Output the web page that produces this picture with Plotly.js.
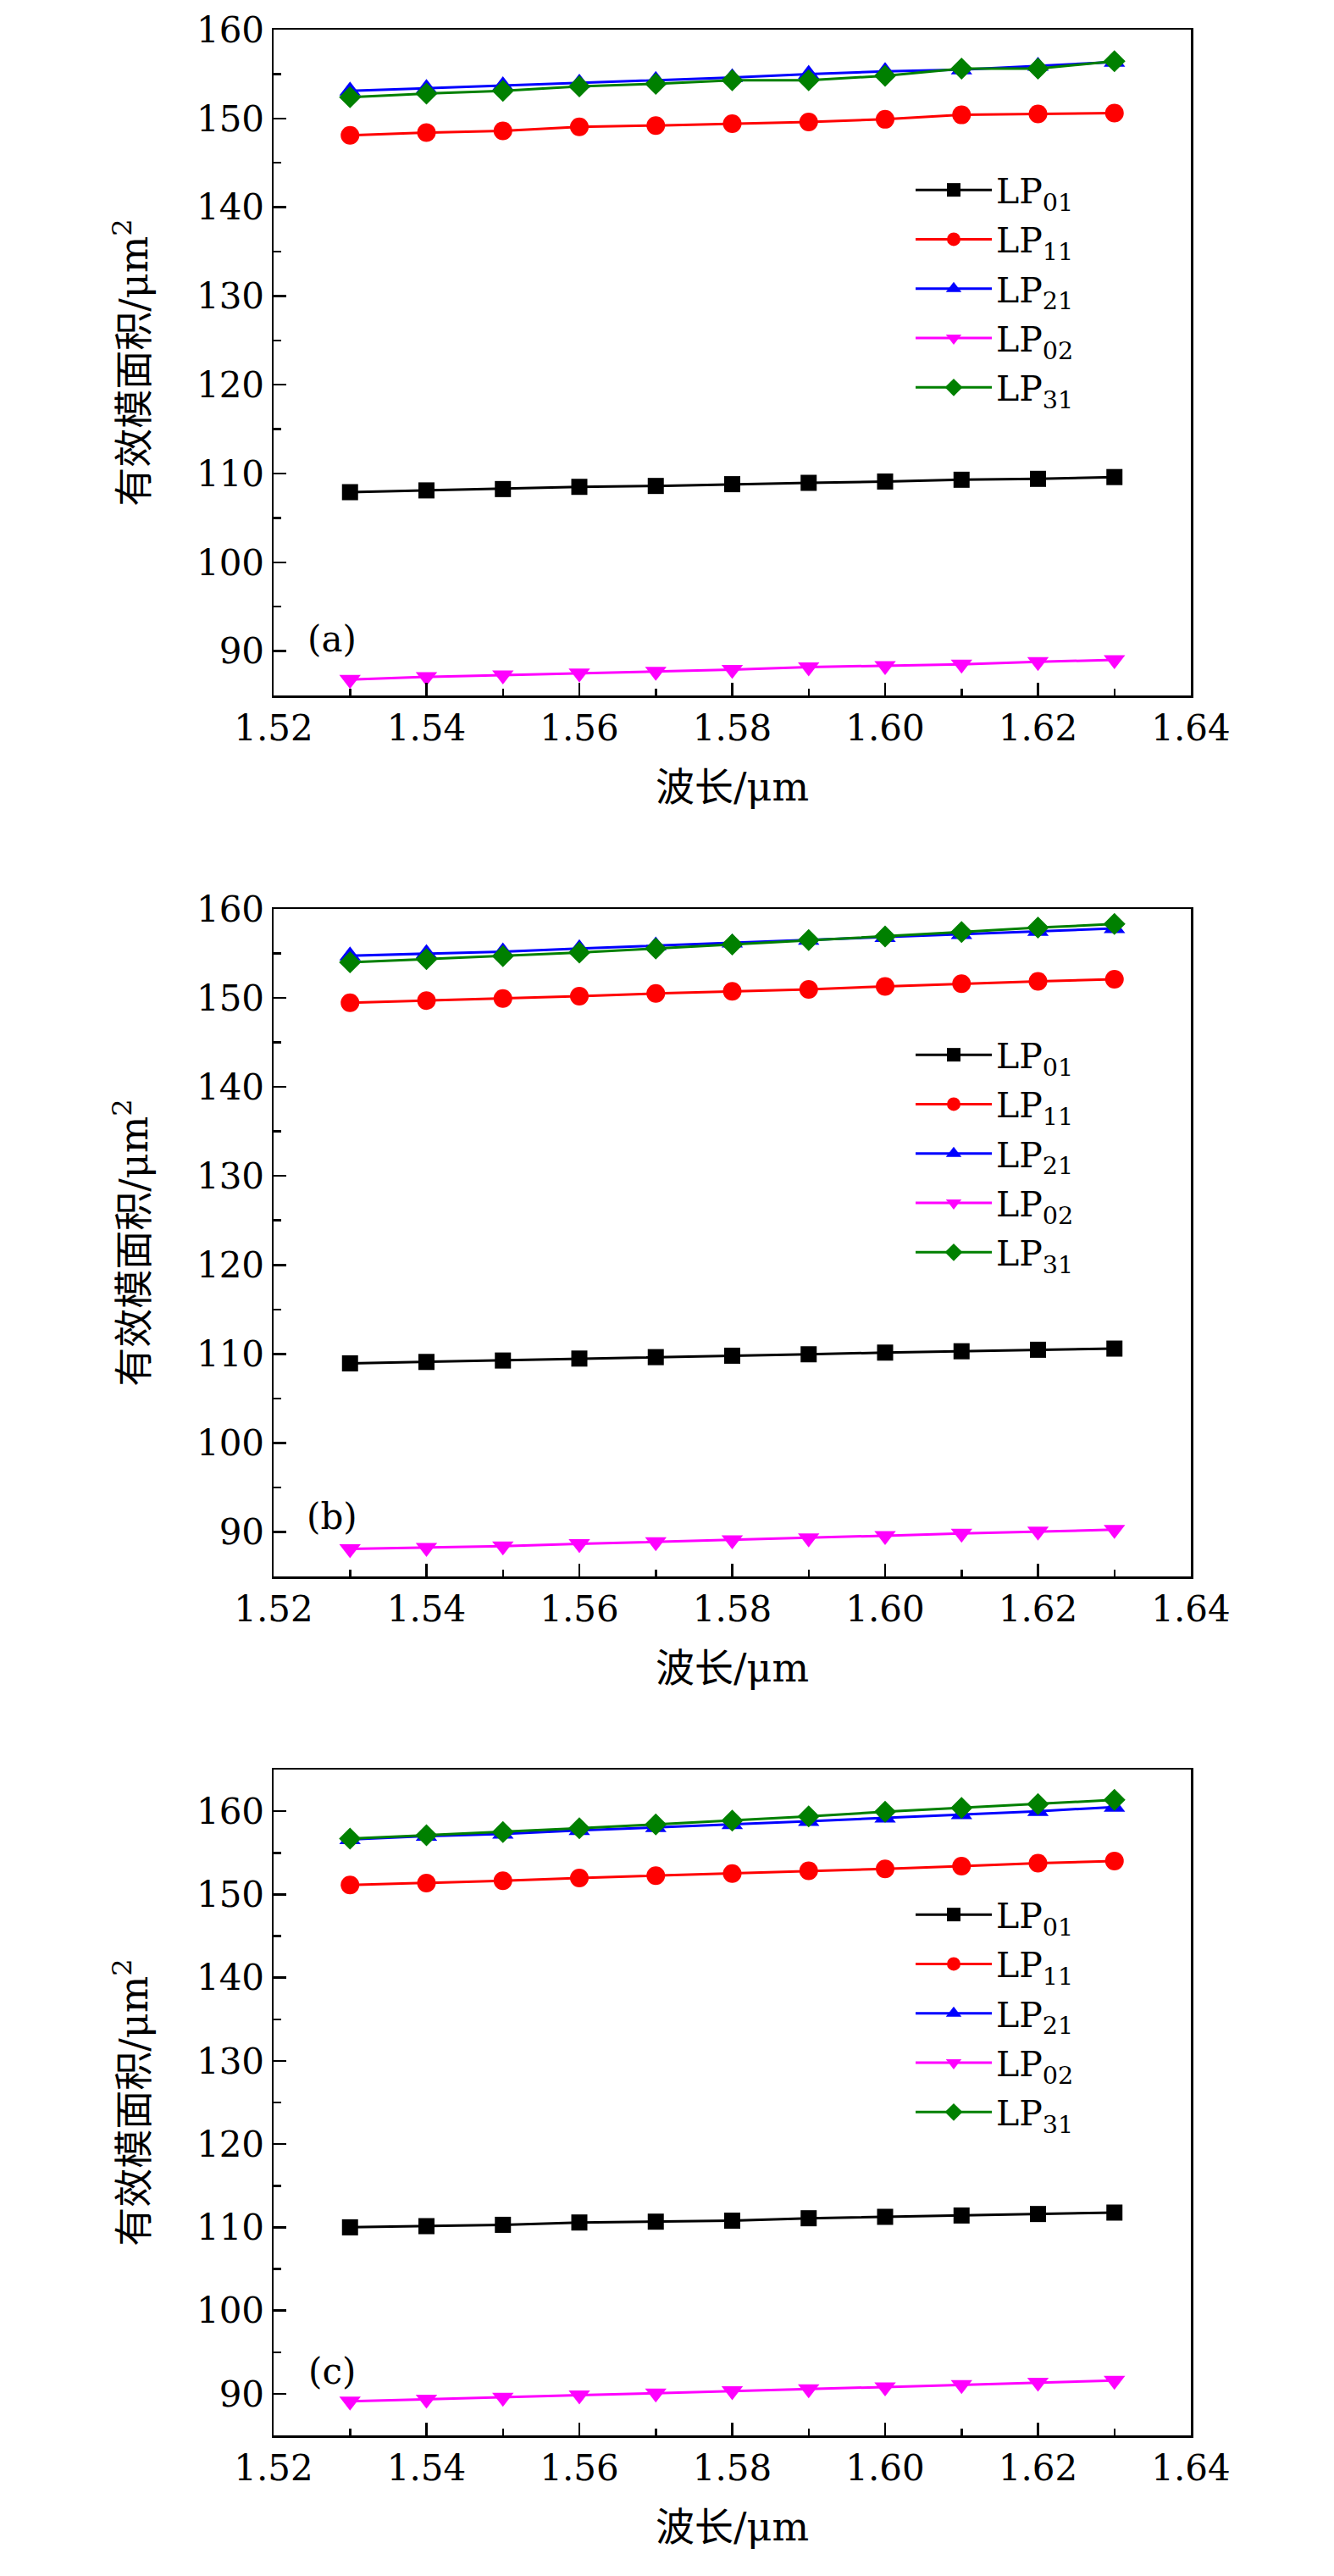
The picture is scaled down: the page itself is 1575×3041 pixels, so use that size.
<!DOCTYPE html>
<html>
<head>
<meta charset="utf-8">
<script src="https://cdn.plot.ly/plotly-3.0.1.min.js"></script>
<style>html,body{margin:0;padding:0;background:#fff;}</style>
</head>
<body>
<div id="chart" style="width:1575px;height:3041px;"></div>
<script>
// ---------- data ----------
const wavelength = [1.53, 1.54, 1.55, 1.56, 1.57, 1.58, 1.59, 1.60, 1.61, 1.62, 1.63];
const modeNames = ['LP<sub>01</sub>', 'LP<sub>11</sub>', 'LP<sub>21</sub>', 'LP<sub>02</sub>', 'LP<sub>31</sub>'];
const panelLabels = ['(a)', '(b)', '(c)'];

// panel (a)
const a_LP01 = [107.9, 108.1, 108.25, 108.5, 108.6, 108.8, 108.95, 109.1, 109.3, 109.4, 109.6];
const a_LP11 = [148.1, 148.4, 148.6, 149.05, 149.2, 149.4, 149.6, 149.9, 150.4, 150.5, 150.6];
const a_LP21 = [153.1, 153.4, 153.7, 154.0, 154.3, 154.6, 155.0, 155.3, 155.5, 155.9, 156.35];
const a_LP02 = [86.8, 87.1, 87.3, 87.5, 87.7, 87.9, 88.2, 88.35, 88.5, 88.8, 89.0];
const a_LP31 = [152.4, 152.8, 153.1, 153.6, 153.9, 154.3, 154.3, 154.8, 155.6, 155.6, 156.45];

// panel (b)
const b_LP01 = [108.94, 109.1, 109.26, 109.48, 109.64, 109.8, 109.96, 110.15, 110.3, 110.47, 110.6];
const b_LP11 = [149.46, 149.7, 149.94, 150.2, 150.5, 150.74, 150.96, 151.3, 151.6, 151.87, 152.1];
const b_LP21 = [154.75, 155.0, 155.2, 155.55, 155.87, 156.2, 156.5, 156.8, 157.15, 157.5, 157.8];
const b_LP02 = [88.09, 88.24, 88.4, 88.66, 88.88, 89.1, 89.3, 89.58, 89.84, 90.06, 90.25];
const b_LP31 = [154.0, 154.36, 154.7, 155.1, 155.55, 156.0, 156.5, 156.9, 157.4, 157.9, 158.3];

// panel (c)
const c_LP01 = [110.0, 110.14, 110.3, 110.58, 110.68, 110.8, 111.09, 111.26, 111.42, 111.6, 111.77];
const c_LP11 = [151.13, 151.36, 151.64, 151.98, 152.25, 152.5, 152.83, 153.07, 153.4, 153.75, 154.02];
const c_LP21 = [156.6, 157.0, 157.27, 157.7, 158.05, 158.4, 158.8, 159.2, 159.6, 160.0, 160.5];
const c_LP02 = [89.1, 89.32, 89.55, 89.83, 90.06, 90.34, 90.57, 90.81, 91.08, 91.35, 91.59];
const c_LP31 = [156.7, 157.1, 157.5, 157.95, 158.4, 158.87, 159.38, 159.93, 160.4, 160.85, 161.36];

const xTickVals = [1.52, 1.54, 1.56, 1.58, 1.60, 1.62, 1.64];
const yTickVals = [90, 100, 110, 120, 130, 140, 150, 160];
const yRanges = [[85, 160], [85, 160], [85, 165]];
const labelPos = [[1.5276, 91.3], [1.5276, 91.75], [1.5276, 92.7]];

// ---------- styles ----------
const colors = ['#000000', '#ff0000', '#0000ff', '#ff00ff', '#008000'];
const symbols = ['square', 'circle', 'triangle-up', 'triangle-down', 'diamond'];
const sizes = [19, 22, 22, 22, 20];
const serif = "'DejaVu Serif', 'Noto Sans CJK SC', serif";

const panels = [
  [a_LP01, a_LP11, a_LP21, a_LP02, a_LP31],
  [b_LP01, b_LP11, b_LP21, b_LP02, b_LP31],
  [c_LP01, c_LP11, c_LP21, c_LP02, c_LP31]
];

const W = 1575, H = 3041;
const plotLeft = 323, plotRight = 1406;
const panelPix = [[35, 821], [1073, 1861], [2089, 2875]];
const legendTop = [191, 1212, 2227];

const traces = [];
panels.forEach((series, p) => {
  const sfx = p === 0 ? '' : String(p + 1);
  series.forEach((ys, i) => {
    traces.push({
      type: 'scatter', mode: 'lines+markers',
      x: wavelength, y: ys,
      name: modeNames[i],
      legendgroup: 'p' + p + 'm' + i,
      xaxis: 'x' + sfx, yaxis: 'y' + sfx,
      legend: 'legend' + sfx,
      line: {color: colors[i], width: 3},
      marker: {symbol: symbols[i], size: sizes[i], color: colors[i], line: {width: 0}}
    });
  });
});

const layout = {
  width: W, height: H,
  margin: {l: 0, r: 0, t: 0, b: 0},
  paper_bgcolor: '#ffffff', plot_bgcolor: '#ffffff',
  font: {family: serif, color: '#000', size: 42},
  showlegend: true,
  annotations: []
};

panels.forEach((series, p) => {
  const sfx = p === 0 ? '' : String(p + 1);
  const top = panelPix[p][0], bot = panelPix[p][1];
  layout['xaxis' + sfx] = {
    domain: [plotLeft / W, plotRight / W],
    anchor: 'y' + sfx,
    range: [1.52, 1.64],
    tickvals: xTickVals, tickformat: '.2f',
    ticks: 'inside', ticklen: 15, tickwidth: 2.5, tickcolor: '#000',
    minor: {dtick: 0.01, ticks: 'inside', ticklen: 8, tickwidth: 2.5, tickcolor: '#000', showgrid: false},
    showline: true, linewidth: 2.5, linecolor: '#000', mirror: true,
    showgrid: false, zeroline: false,
    tickfont: {family: serif, size: 42, color: '#000'},
    title: {text: '波长/μm', font: {family: serif, size: 46, color: '#000'}, standoff: 30}
  };
  layout['yaxis' + sfx] = {
    domain: [1 - bot / H, 1 - top / H],
    anchor: 'x' + sfx,
    range: yRanges[p],
    tickvals: yTickVals,
    ticks: 'inside', ticklen: 15, tickwidth: 2.5, tickcolor: '#000',
    minor: {dtick: 5, ticks: 'inside', ticklen: 9, tickwidth: 2.5, tickcolor: '#000', showgrid: false},
    showline: true, linewidth: 2.5, linecolor: '#000', mirror: true,
    showgrid: false, zeroline: false,
    tickfont: {family: serif, size: 42, color: '#000'},
    title: {text: '有效模面积/μm<sup>2</sup>', font: {family: serif, size: 46, color: '#000'}, standoff: 43}
  };
  layout['legend' + sfx] = {
    x: 1076 / W, xanchor: 'left',
    y: 1 - legendTop[p] / H, yanchor: 'top',
    bgcolor: 'rgba(0,0,0,0)', borderwidth: 0,
    font: {family: serif, size: 41, color: '#000'},
    itemwidth: 90, tracegroupgap: 2, traceorder: 'grouped'
  };
  layout.annotations.push({
    xref: 'x' + sfx, yref: 'y' + sfx,
    x: labelPos[p][0], y: labelPos[p][1],
    text: panelLabels[p], showarrow: false,
    font: {family: serif, size: 42, color: '#000'}
  });
});

Plotly.newPlot('chart', traces, layout, {staticPlot: true, displayModeBar: false});
</script>
</body>
</html>
